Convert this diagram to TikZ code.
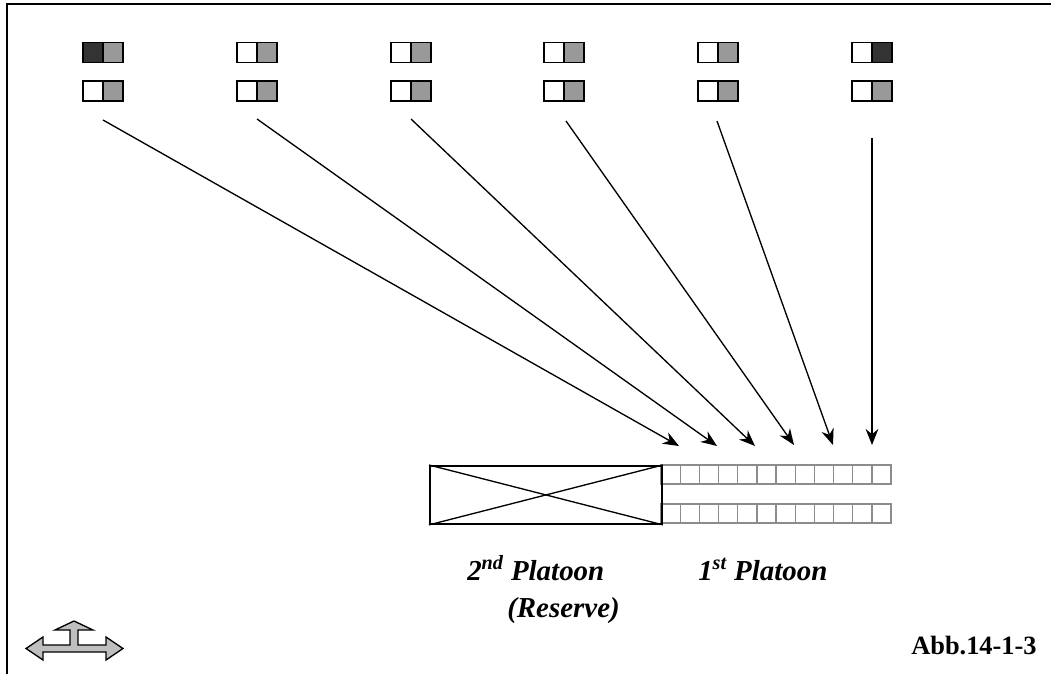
\documentclass[tikz,border=0pt]{standalone}
\usepackage{fontspec}
\setmainfont{Liberation Serif}
\usetikzlibrary{arrows.meta,positioning,calc}

\begin{document}
\begin{tikzpicture}[
  x=0.75pt, y=-0.75pt,
  unitsq/.style={rectangle, draw=black, line width=1.4pt, minimum width=15pt, minimum height=15pt, inner sep=0pt, outer sep=0pt},
  platsq/.style={rectangle, draw=black!45, line width=1pt, minimum width=14.4pt, minimum height=14.25pt, inner sep=0pt, outer sep=0pt},
  lbl/.style={anchor=base west, inner sep=0pt, font=\fontsize{21.7}{25}\selectfont\bfseries\itshape},
  arrow/.style={-{Stealth[length=12pt, width=9.5pt]}, line width=1pt}
]
  \useasboundingbox (0,0) rectangle (1051,674);
  % frame
  \draw[line width=1.5pt] (7,674) -- (7,4.5) -- (1051,4.5);

  % enemy units at the top
  \foreach \i/\la/\ra in {1/black!80/black!40, 2/white/black!40, 3/white/black!40,
                         4/white/black!40, 5/white/black!40, 6/white/black!80} {
    \pgfmathsetmacro{\xo}{83+(\i-1)*153.8}
    \node[unitsq, fill=\la, anchor=north west] (u\i a) at (\xo,42.5) {};
    \node[unitsq, fill=\ra, right=0pt of u\i a] (u\i b) {};
    \node[unitsq, fill=white, anchor=north west] (v\i a) at (\xo,81) {};
    \node[unitsq, fill=black!40, right=0pt of v\i a] (v\i b) {};
  }

  % 1st platoon
  \foreach \j in {1,...,12} {
    \node[platsq, anchor=north west] (pa\j) at ({661+(\j-1)*19.17},465) {};
    \node[platsq, anchor=north west] (pb\j) at ({661+(\j-1)*19.17},504) {};
  }

  % 2nd platoon (reserve)
  \node[rectangle, draw, line width=1.4pt, minimum width=174pt, minimum height=43.5pt, inner sep=0pt, anchor=north west] (res) at (429,465) {};
  \draw[line width=1pt] (res.north west) -- (res.south east);
  \draw[line width=1pt] (res.south west) -- (res.north east);

  % arrows
  \coordinate (s1) at (103,120);  \coordinate (t1) at (679,446);
  \coordinate (s2) at (257,119);  \coordinate (t2) at (717,446);
  \coordinate (s3) at (411,119);  \coordinate (t3) at (755,446);
  \coordinate (s4) at (566,121);  \coordinate (t4) at (794,445);
  \coordinate (s5) at (717,121);  \coordinate (t5) at (833,445);
  \coordinate (s6) at (872,138);  \coordinate (t6) at (872,445);
  \foreach \k in {1,...,6}
    \draw[arrow] (s\k) -- (t\k);

  % labels
  \node[lbl] (lres) at (467,580) {2\textsuperscript{nd} Platoon};
  \node[lbl] (lres2) at (507,617) {(Reserve)};
  \node[lbl] (lfirst) at (698,580) {1\textsuperscript{st} Platoon};
  \node[anchor=base west, inner sep=0pt, font=\fontsize{19.8}{23}\selectfont\bfseries] (abb) at (911,654) {Abb.14-1-3};

  % orientation symbol
  \draw[line width=1pt, fill=black!25, line join=miter]
    (26,648.5) -- (43,637) -- (43,645) -- (70,645) -- (70,630) -- (55,630) -- (74,621)
    -- (93,630) -- (78,630) -- (78,645) -- (106,645) -- (106,637) -- (123,648.5)
    -- (106,660) -- (106,652) -- (43,652) -- (43,660) -- cycle;
\end{tikzpicture}
\end{document}
